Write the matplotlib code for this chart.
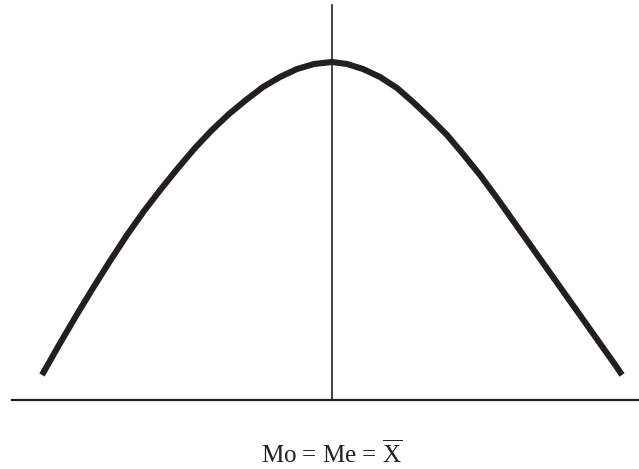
import matplotlib
matplotlib.use("Agg")
import numpy as np
import matplotlib.pyplot as plt
from matplotlib import rcParams

rcParams['font.family'] = 'Liberation Serif'
rcParams['mathtext.fontset'] = 'custom'
rcParams['mathtext.rm'] = 'Liberation Serif'

# curve: offset from the centre, height above baseline
curve_x = [-290, -273, -256, -239, -222, -205, -188, -171, -154, -137,
           -120, -103, -86, -69, -52, -35, -18, 0,
           15, 31, 48, 65, 81, 98, 115, 131, 148, 165,
           182, 199, 216, 233, 250, 267, 284, 290]
curve_y = [25, 55, 84, 112, 139, 165, 189, 211, 232, 252,
           270, 286, 300, 313, 323, 331, 336, 338,
           336, 331, 323, 312, 298, 282, 265, 246, 225, 202,
           178, 154, 130, 106, 82, 58, 34, 25]

label = r'Mo = Me = $\overline{\mathrm{X}}$'

fig = plt.figure(figsize=(6.39, 4.69), dpi=100)
ax = fig.add_axes([0, 0, 1, 1])
ax.set_xlim(-332, 307)
ax.set_ylim(-69, 400)
ax.axis('off')

ax.plot(np.array(curve_x), np.array(curve_y), color='#231f20', lw=4.4,
        solid_capstyle='butt', solid_joinstyle='round')
ax.plot([0, 0], [0, 395], color='#231f20', lw=1.2)
ax.plot([-320, 307], [0, 0], color='#231f20', lw=1.6)

ax.text(0, -63, label, ha='center', va='baseline', fontsize=18, color='#231f20')

plt.savefig('out.png', dpi=100)
